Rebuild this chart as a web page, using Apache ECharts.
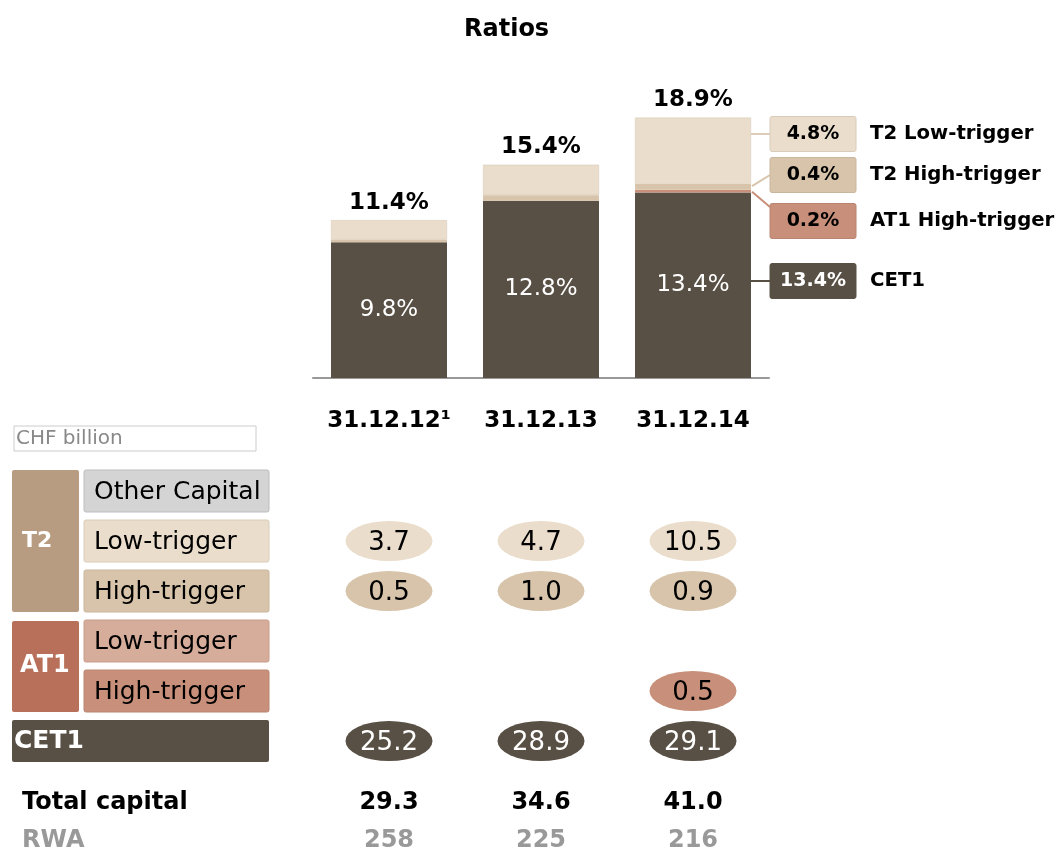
<!DOCTYPE html>
<html><head><meta charset="utf-8">
<script src="https://cdn.jsdelivr.net/npm/echarts@6/dist/echarts.min.js"></script>
<style>html,body{margin:0;padding:0;background:#fff}#c{width:1057px;height:853px}</style>
</head><body><div id="c"></div>
<script>
// ---- data ----
const categories = ['31.12.12¹', '31.12.13', '31.12.14'];
const cet1Ratio = [9.8, 12.8, 13.4];
const at1HighRatio = [0, 0, 0.2];
const t2HighRatio = [0.2, 0.4, 0.4];
const t2LowRatio = [1.4, 2.2, 4.8];
const totalRatio = [11.4, 15.4, 18.9];

const legendNames = ['T2 Low-trigger', 'T2 High-trigger', 'AT1 High-trigger', 'CET1'];

const tableRows = ['T2 Other Capital', 'T2 Low-trigger', 'T2 High-trigger', 'AT1 Low-trigger', 'AT1 High-trigger', 'CET1'];
const rowLabels = ['Other Capital', 'Low-trigger', 'High-trigger', 'Low-trigger', 'High-trigger', 'CET1'];
const t2LowCap = [3.7, 4.7, 10.5];
const t2HighCap = [0.5, 1.0, 0.9];
const at1HighCap = [null, null, 0.5];
const cet1Cap = [25.2, 28.9, 29.1];
const summaryRows = ['Total capital', 'RWA'];
const totalCapital = [29.3, 34.6, 41.0];
const rwa = [258, 225, 216];

// ---- styles ----
const C = {
  cet1: '#595045', at1High: '#C8907A', at1Low: '#D6AC9B', t2High: '#D7C4AA', t2Low: '#EADDCB',
  t2Head: '#B89C82', at1Head: '#B8705A', other: '#D4D4D4'
};
const FONT = '"DejaVu Sans", "Noto Sans", sans-serif';

const chart = echarts.init(document.getElementById('c'));

function capSeries(row, vals, fill, textColor) {
  return {
    type: 'scatter', xAxisIndex: 1, yAxisIndex: 1,
    symbol: 'path://M0,50 A50,50 0 1,1 100,50 A50,50 0 1,1 0,50 Z',
    symbolSize: [87, 40],
    itemStyle: { color: fill, opacity: 1 },
    label: { show: true, position: 'inside', offset: [0, 2], color: textColor, fontSize: 26, fontFamily: FONT,
      formatter: p => p.value[2].toFixed(1) },
    silent: true,
    data: vals.map((v, i) => v == null ? null : [i, row, v]).filter(d => d)
  };
}

const bar = (name, vals, color, extra) => Object.assign({
  type: 'bar', name, stack: 'r', xAxisIndex: 0, yAxisIndex: 0, barWidth: 116,
  itemStyle: { color }, data: vals, silent: true
}, extra || {});

const option = {
  animation: false,
  title: { text: 'Ratios', left: 459, top: 13,
    textStyle: { fontSize: 24, fontWeight: 'bold', color: '#000', fontFamily: FONT } },
  grid: [
    { left: 313, width: 456, top: 101, height: 277 },
    { left: 313, width: 456, top: 466, height: 300 },
    { left: 313, width: 456, top: 803, height: 42 }
  ],
  xAxis: [
    { type: 'category', gridIndex: 0, data: categories,
      axisLine: { lineStyle: { color: '#999', width: 2 } }, axisTick: { show: false },
      axisLabel: { interval: 0, fontSize: 23, fontWeight: 'bold', color: '#000', margin: 32, fontFamily: FONT } },
    { type: 'category', gridIndex: 1, data: categories, show: false },
    { type: 'category', gridIndex: 2, data: categories, show: false }
  ],
  yAxis: [
    { type: 'value', gridIndex: 0, min: 0, max: 20, show: false },
    { type: 'category', gridIndex: 1, data: tableRows, inverse: true, show: false },
    { type: 'category', gridIndex: 2, data: summaryRows, inverse: true, boundaryGap: false,
      axisLine: { show: false }, axisTick: { show: false }, splitLine: { show: false },
      axisLabel: { interval: 0, align: 'left', margin: 291, fontFamily: FONT, fontSize: 24, fontWeight: 'bold',
        formatter: v => v === 'RWA' ? '{g|' + v + '}' : '{b|' + v + '}',
        rich: { b: { color: '#000', fontSize: 24, fontWeight: 'bold', fontFamily: FONT },
                g: { color: '#999', fontSize: 24, fontWeight: 'bold', fontFamily: FONT } } } }
  ],
  series: [
    bar('CET1', cet1Ratio, C.cet1, { label: { show: true, position: 'inside', color: '#fff',
      fontSize: 23, fontFamily: FONT, formatter: p => p.value.toFixed(1) + '%' } }),
    bar('AT1 High-trigger', at1HighRatio, C.at1High),
    bar('T2 High-trigger', t2HighRatio, C.t2High),
    bar('T2 Low-trigger', t2LowRatio, C.t2Low, { itemStyle: { color: C.t2Low, borderColor: '#D5C8B6', borderWidth: 0.5 },
      label: { show: true, position: 'top', distance: 6, color: '#000', fontSize: 23, fontWeight: 'bold',
      fontFamily: FONT, formatter: p => totalRatio[p.dataIndex].toFixed(1) + '%' } }),
    capSeries('T2 Low-trigger', t2LowCap, C.t2Low, '#000'),
    capSeries('T2 High-trigger', t2HighCap, C.t2High, '#000'),
    capSeries('AT1 High-trigger', at1HighCap, C.at1High, '#000'),
    capSeries('CET1', cet1Cap, C.cet1, '#fff'),
    { type: 'scatter', xAxisIndex: 2, yAxisIndex: 2, symbolSize: 1, itemStyle: { color: 'rgba(0,0,0,0)', opacity: 1 },
      label: { show: true, position: 'inside', fontSize: 24, fontWeight: 'bold', fontFamily: FONT, color: '#000',
        formatter: p => p.value[2].toFixed(1) }, silent: true,
      data: totalCapital.map((v, i) => [i, 'Total capital', v]) },
    { type: 'scatter', xAxisIndex: 2, yAxisIndex: 2, symbolSize: 1, itemStyle: { color: 'rgba(0,0,0,0)', opacity: 1 },
      label: { show: true, position: 'inside', fontSize: 24, fontWeight: 'bold', fontFamily: FONT, color: '#999',
        formatter: p => String(p.value[2]) }, silent: true,
      data: rwa.map((v, i) => [i, 'RWA', v]) }
  ]
};
chart.setOption(option);

// ---- annotations: left table headers, right legend with connectors ----
const g = [];
g.push({ type: 'rect', shape: { x: 14, y: 426, width: 242, height: 25 },
  style: { fill: '#fff', stroke: '#ccc', lineWidth: 1 } });
g.push({ type: 'text', x: 16, y: 438.5, style: { text: 'CHF billion', fill: '#888', font: '20px ' + FONT, verticalAlign: 'middle' } });

const rowFill = [C.other, C.t2Low, C.t2High, C.at1Low, C.at1High];
const rowStroke = ['#BDBDBD', '#D9CCBA', '#C9B69C', '#C99C8A', '#B98570'];
tableRows.forEach((r, i) => {
  const cy = chart.convertToPixel({ yAxisIndex: 1 }, r);
  if (i < 5) {
    g.push({ type: 'rect', shape: { x: 84, y: cy - 21, width: 185, height: 42, r: 2 },
      style: { fill: rowFill[i], stroke: rowStroke[i], lineWidth: 1 } });
    g.push({ type: 'text', x: 94, y: cy + 1, style: { text: rowLabels[i], fill: '#000', font: '25px ' + FONT, verticalAlign: 'middle' } });
  } else {
    g.push({ type: 'rect', shape: { x: 12, y: cy - 21, width: 257, height: 42, r: 2 }, style: { fill: C.cet1 } });
    g.push({ type: 'text', x: 14, y: cy, style: { text: rowLabels[i], fill: '#fff', font: 'bold 25px ' + FONT, verticalAlign: 'middle' } });
  }
});
const y0 = chart.convertToPixel({ yAxisIndex: 1 }, tableRows[0]);
const y2 = chart.convertToPixel({ yAxisIndex: 1 }, tableRows[2]);
const y3 = chart.convertToPixel({ yAxisIndex: 1 }, tableRows[3]);
const y4 = chart.convertToPixel({ yAxisIndex: 1 }, tableRows[4]);
g.push({ type: 'rect', shape: { x: 12, y: y0 - 21, width: 67, height: y2 - y0 + 42, r: 2 }, style: { fill: C.t2Head } });
g.push({ type: 'text', x: 22, y: (y0 + y2) / 2, style: { text: 'T2', fill: '#fff', font: 'bold 22px ' + FONT, verticalAlign: 'middle' } });
g.push({ type: 'rect', shape: { x: 12, y: y3 - 20, width: 67, height: y4 - y3 + 41, r: 2 }, style: { fill: C.at1Head } });
g.push({ type: 'text', x: 20, y: (y3 + y4) / 2, style: { text: 'AT1', fill: '#fff', font: 'bold 24px ' + FONT, verticalAlign: 'middle' } });

// right legend for the last bar
const last = categories.length - 1;
const px = v => chart.convertToPixel({ gridIndex: 0 }, [last, v]);
const barRight = px(0)[0] + 58;
const boxX = 770, boxW = 86, boxH = 35;
const legendVals = [t2LowRatio[last], t2HighRatio[last], at1HighRatio[last], cet1Ratio[last]];
const legendFill = [C.t2Low, C.t2High, C.at1High, C.cet1];
const legendStroke = ['#D9CCBA', '#C9B69C', '#B98570', C.cet1];
const lineCol = ['#DCCDB9', C.t2High, C.at1High, C.cet1];
const legendCY = [134, 175, 221, 281];
const segTop = px(cet1Ratio[last] + at1HighRatio[last] + t2HighRatio[last])[1];
const segMid = px(cet1Ratio[last] + at1HighRatio[last])[1];
const starts = [
  [barRight, legendCY[0]],
  [barRight + 1, segTop + 2],
  [barRight + 1, segMid + 2],
  [barRight, legendCY[3]]
];
const ends = [
  [boxX, legendCY[0]],
  [boxX, legendCY[1]],
  [boxX, legendCY[2] - 14],
  [boxX, legendCY[3]]
];
legendNames.forEach((n, i) => {
  g.push({ type: 'polyline', shape: { points: [starts[i], ends[i]] }, style: { stroke: lineCol[i], lineWidth: 2, fill: null } });
  g.push({ type: 'rect', shape: { x: boxX, y: legendCY[i] - boxH / 2, width: boxW, height: boxH, r: 2 },
    style: { fill: legendFill[i], stroke: legendStroke[i], lineWidth: 1 } });
  g.push({ type: 'text', x: boxX + boxW / 2, y: legendCY[i], style: { text: legendVals[i].toFixed(1) + '%',
    fill: i === 3 ? '#fff' : '#000', font: 'bold 19px ' + FONT, align: 'center', verticalAlign: 'middle' } });
  g.push({ type: 'text', x: 870, y: legendCY[i], style: { text: n, fill: '#000', font: 'bold 19.7px ' + FONT, verticalAlign: 'middle' } });
});
chart.setOption({ graphic: { elements: g } });
</script></body></html>
